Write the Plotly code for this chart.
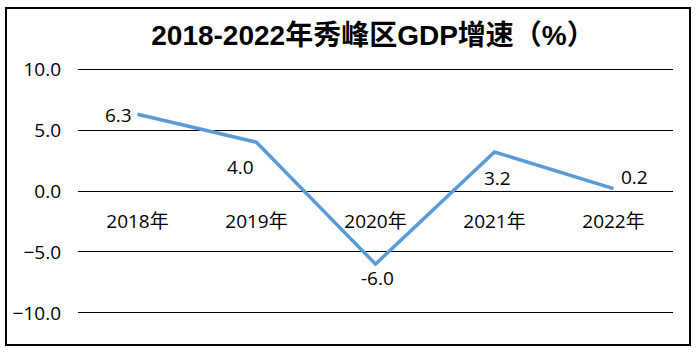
import plotly.graph_objects as go

categories = ["2018年", "2019年", "2020年", "2021年", "2022年"]
growth = [6.3, 4.0, -6.0, 3.2, 0.2]
label_shift_x = [-19, -16, 2, 3, 21]
label_shift_y = [-1, -25, -14, -26, 12]
y_ticks = [-10, -5, 0, 5, 10]

W, H = 697, 352
L, R, T, B = 78, 24, 63, 33
pw, ph = W - L - R, H - T - B
FONT = "Open Sans, Noto Sans CJK SC"

fig = go.Figure()
fig.add_trace(go.Scatter(
    x=categories, y=growth, mode="lines",
    line=dict(color="#5B9BD5", width=3.5),
    cliponaxis=False, hoverinfo="skip",
))

for c, v, dx, dy in zip(categories, growth, label_shift_x, label_shift_y):
    fig.add_annotation(x=c, y=v, xref="x", yref="y", text=f"{v:.1f}",
                       showarrow=False, xanchor="center", yanchor="middle",
                       xshift=dx, yshift=dy,
                       font=dict(family=FONT, size=19, color="#000000"))

def px2paper_x(p):
    return (p - L) / pw

def px2paper_y(p):
    return (H - B - p) / ph

fig.add_shape(type="rect", xref="paper", yref="paper",
              x0=px2paper_x(6), x1=px2paper_x(690),
              y0=px2paper_y(345), y1=px2paper_y(8),
              line=dict(color="#000000", width=2), layer="below")

fig.update_layout(
    width=W, height=H,
    margin=dict(l=L, r=R, t=T, b=B),
    paper_bgcolor="white", plot_bgcolor="white",
    showlegend=False,
    title=dict(text="<b>2018-2022年秀峰区GDP增速（%）</b>",
               x=px2paper_x(373), xref="paper", xanchor="center",
               y=1 - 35 / H, yanchor="middle",
               font=dict(family="Liberation Sans, Noto Sans CJK SC", size=28, color="#000000")),
    xaxis=dict(type="category", range=[-0.5, 4.5], showgrid=False, showline=False,
               zeroline=False, ticks="", anchor="free", position=0.5,
               ticklabelstandoff=17,
               tickfont=dict(family=FONT, size=19, color="#000000")),
    yaxis=dict(range=[-10.5, 10.5], tickvals=y_ticks, tickformat=".1f",
               showgrid=True, gridcolor="#000000", gridwidth=1,
               zeroline=True, zerolinecolor="#000000", zerolinewidth=1,
               showline=False, ticks="", ticklabelstandoff=16,
               tickfont=dict(family=FONT, size=19, color="#000000")),
)

fig.write_html("out.html")
